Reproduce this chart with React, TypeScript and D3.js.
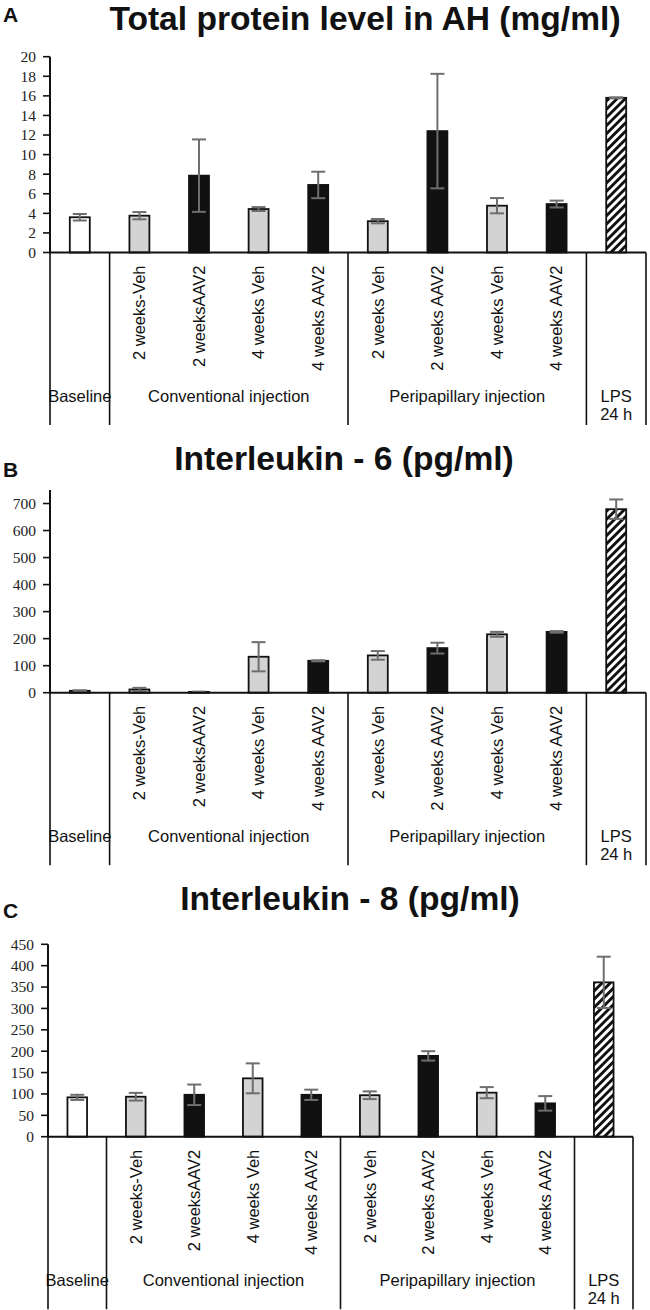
import React from "react";
import * as d3 from "d3";

// ---------- data ----------
const categories = [
  "Baseline",
  "2 weeks-Veh",
  "2 weeksAAV2",
  "4 weeks Veh",
  "4 weeks AAV2",
  "2 weeks Veh",
  "2 weeks AAV2",
  "4 weeks Veh",
  "4 weeks AAV2",
  "LPS 24 h",
];
const kinds = ["base", "veh", "aav", "veh", "aav", "veh", "aav", "veh", "aav", "lps"];
const groupLabels = ["Baseline", "Conventional injection", "Peripapillary injection", "LPS|24 h"];
const groupStart = [0, 1, 5, 9];
const groupEnd = [1, 5, 9, 10];

const proteinMean = [3.6, 3.76, 7.85, 4.44, 6.9, 3.2, 12.4, 4.78, 4.95, 15.8];
const proteinErr = [0.33, 0.37, 3.7, 0.2, 1.35, 0.22, 5.85, 0.78, 0.35, 0.05];
const proteinTicks = [0, 2, 4, 6, 8, 10, 12, 14, 16, 18, 20];

const il6Mean = [7, 12, 3, 133, 118, 138, 165, 216, 225, 679];
const il6Err = [2, 6, 1, 54, 2, 16, 20, 9, 3, 36];
const il6Ticks = [0, 100, 200, 300, 400, 500, 600, 700];

const il8Mean = [92, 93.5, 98, 136.5, 98, 97, 189, 103, 78, 361];
const il8Err = [6, 9, 24, 35, 12, 9, 11, 13, 17, 60];
const il8Ticks = [0, 50, 100, 150, 200, 250, 300, 350, 400, 450];

// ---------- layout ----------
const panels = [
  {
    letter: "A", title: "Total protein level in AH (mg/ml)",
    mean: proteinMean, err: proteinErr, ticks: proteinTicks, max: 20,
    letterY: 21.7, titleX: 365, titleY: 30,
    yTop: 56.7, yZero: 252.5, x0: 50, x1: 646,
  },
  {
    letter: "B", title: "Interleukin - 6 (pg/ml)",
    mean: il6Mean, err: il6Err, ticks: il6Ticks, max: 750,
    letterY: 476.7, titleX: 344, titleY: 470,
    yTop: 490, yZero: 692.7, x0: 50, x1: 646,
  },
  {
    letter: "C", title: "Interleukin - 8 (pg/ml)",
    mean: il8Mean, err: il8Err, ticks: il8Ticks, max: 450,
    letterY: 918, titleX: 350, titleY: 910,
    yTop: 944.3, yZero: 1136.7, x0: 48, x1: 633,
  },
];

const SANS = "'Liberation Sans', Arial, sans-serif";
const SERIF = "'Liberation Serif', 'Times New Roman', serif";

const fills: Record<string, string> = {
  base: "#ffffff",
  veh: "#d3d3d3",
  aav: "#111111",
  lps: "url(#hatch)",
};

function Panel({ p }: { p: (typeof panels)[number] }) {
  const idx = categories.map((_, i) => i);
  const x = d3.scaleBand<number>().domain(idx).range([p.x0, p.x1]).padding(0);
  const y = d3.scaleLinear().domain([0, p.max]).range([p.yZero, p.yTop]);
  const bw = x.bandwidth() * 0.335;
  const cap = 14;
  const bottom = p.yZero + 172.5;
  const boundaries = [0, 1, 5, 9, 10];
  const edge = (i: number) => (i >= categories.length ? p.x1 : (x(i) as number));

  return (
    <g>
      <text x={3} y={p.letterY} fontFamily={SANS} fontWeight="bold" fontSize={21} fill="#111">
        {p.letter}
      </text>
      <text x={p.titleX} y={p.titleY} textAnchor="middle" fontFamily={SANS} fontWeight="bold" fontSize={33.6} fill="#111">
        {p.title}
      </text>

      {/* bars */}
      {p.mean.map((v, i) => {
        const cx = (x(i) as number) + x.bandwidth() / 2;
        return (
          <rect
            key={"b" + i}
            x={cx - bw / 2}
            y={y(v)}
            width={bw}
            height={p.yZero - y(v)}
            fill={fills[kinds[i]]}
            stroke="#111"
            strokeWidth={1.8}
          />
        );
      })}

      {/* error bars */}
      {p.mean.map((v, i) => {
        const cx = (x(i) as number) + x.bandwidth() / 2;
        const hi = y(v + p.err[i]);
        const lo = y(Math.max(0, v - p.err[i]));
        return (
          <g key={"e" + i} stroke="#6e6e6e" strokeWidth={2}>
            <line x1={cx} x2={cx} y1={hi} y2={lo} />
            <line x1={cx - cap / 2} x2={cx + cap / 2} y1={hi} y2={hi} />
            <line x1={cx - cap / 2} x2={cx + cap / 2} y1={lo} y2={lo} />
          </g>
        );
      })}

      {/* y axis */}
      <line x1={p.x0} x2={p.x0} y1={p.yTop} y2={p.yZero} stroke="#111" strokeWidth={2} />
      {p.ticks.map((t) => (
        <g key={"t" + t}>
          <line x1={p.x0 - 7} x2={p.x0} y1={y(t)} y2={y(t)} stroke="#111" strokeWidth={1.6} />
          <text x={p.x0 - 14} y={y(t)} dy="0.35em" textAnchor="end" fontFamily={SERIF} fontSize={15.5} fill="#222">
            {t}
          </text>
        </g>
      ))}

      {/* x axis baseline */}
      <line x1={p.x0 - 1} x2={p.x1} y1={p.yZero} y2={p.yZero} stroke="#111" strokeWidth={2} />

      {/* separators */}
      {boundaries.map((b) => (
        <line key={"s" + b} x1={edge(b)} x2={edge(b)} y1={p.yZero} y2={bottom} stroke="#111" strokeWidth={1.6} />
      ))}

      {/* rotated category labels */}
      {categories.slice(1, 9).map((c, k) => {
        const i = k + 1;
        const cx = (x(i) as number) + x.bandwidth() / 2;
        return (
          <text
            key={"c" + i}
            transform={`translate(${cx},${p.yZero + 13}) rotate(-90)`}
            dy="0.35em"
            textAnchor="end"
            fontFamily={SANS}
            fontSize={16.5}
            fill="#111"
          >
            {c}
          </text>
        );
      })}

      {/* group labels */}
      {groupLabels.map((g, gi) => {
        const cx = (edge(groupStart[gi]) + edge(groupEnd[gi])) / 2;
        const lines = g.split("|");
        return (
          <text key={"g" + gi} textAnchor="middle" fontFamily={SANS} fontSize={16.5} fill="#111">
            {lines.map((l, li) => (
              <tspan key={li} x={cx} y={p.yZero + 149 + li * 18.5}>
                {l}
              </tspan>
            ))}
          </text>
        );
      })}
    </g>
  );
}

export default function App() {
  return (
    <svg
      width={650}
      height={1310}
      style={{ position: "absolute", left: 0, top: 0, background: "#fff" }}
    >
      <defs>
        <pattern id="hatch" patternUnits="userSpaceOnUse" width={5.8} height={5.8} patternTransform="rotate(45)">
          <rect x={0} y={0} width={5.8} height={5.8} fill="#fff" />
          <rect x={0} y={0} width={2.9} height={5.8} fill="#111" />
        </pattern>
      </defs>
      <rect x={0} y={0} width={650} height={1310} fill="#fff" />
      {panels.map((p) => (
        <Panel key={p.letter} p={p} />
      ))}
    </svg>
  );
}
